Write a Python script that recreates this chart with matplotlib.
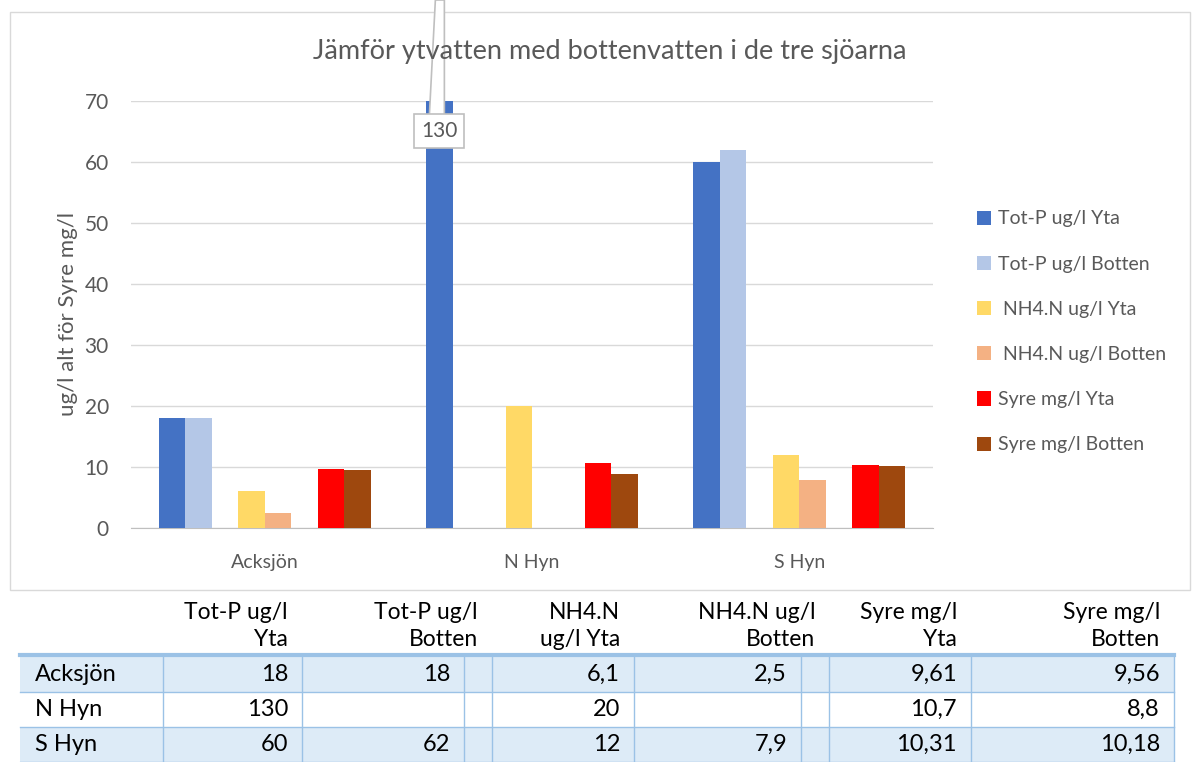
import matplotlib.pyplot as plt
from matplotlib.patches import Rectangle, Polygon

# data
lakes = ["Acksjön", "N Hyn", "S Hyn"]
series_names = ["Tot-P ug/l Yta", "Tot-P ug/l Botten", "",
                " NH4.N ug/l Yta", " NH4.N ug/l Botten", "",
                "Syre mg/l Yta", "Syre mg/l Botten"]
table_heads = ["Tot-P ug/l\nYta", "Tot-P ug/l\nBotten", "",
               "NH4.N\nug/l Yta", "NH4.N ug/l\nBotten", "",
               "Syre mg/l\nYta", "Syre mg/l\nBotten"]
totp_yta = [18, 130, 60]
totp_botten = [18, None, 62]
nh4_yta = [6.1, 20, 12]
nh4_botten = [2.5, None, 7.9]
syre_yta = [9.61, 10.7, 10.31]
syre_botten = [9.56, 8.8, 10.18]
empty = [None, None, None]
values = [totp_yta, totp_botten, empty, nh4_yta, nh4_botten, empty, syre_yta, syre_botten]
colors = ["#4472C4", "#B4C7E7", "none", "#FFD966", "#F4B183", "none", "#FF0000", "#9E480E"]
y_max = 70

plt.rcParams['font.family'] = ['Lato', 'DejaVu Sans']
gray = "#595959"

W, H = 1197, 762
fig = plt.figure(figsize=(W / 100, H / 100), dpi=100)

# chart border + table drawn on a pixel-space axes
bg = fig.add_axes([0, 0, 1, 1])
bg.set_xlim(0, W)
bg.set_ylim(H, 0)
bg.axis("off")
bg.add_patch(Rectangle((10, 12), 1180, 578, fill=False, edgecolor="#D9D9D9", lw=1))

ax = fig.add_axes([131 / W, 1 - 528 / H, 802 / W, 427 / H])
ax.set_xlim(-0.5, 2.5)
ax.set_ylim(0, y_max)

bw = 0.099
handles = []
for i, (vals, col) in enumerate(zip(values, colors)):
    off = (i - 3.5) * bw
    xs = [k + off for k, v in enumerate(vals) if v is not None]
    ys = [v for v in vals if v is not None]
    if col == "none":
        continue
    b = ax.bar(xs, ys, width=bw, color=col, zorder=3, label=series_names[i])
    handles.append(b)

ax.set_yticks(range(0, 71, 10))
ax.set_xticks(range(len(lakes)))
ax.set_xticklabels(lakes)
ax.tick_params(axis="y", length=0, labelsize=15, labelcolor=gray, pad=16)
ax.tick_params(axis="x", length=0, labelsize=14, labelcolor=gray, pad=19)
ax.grid(axis="y", color="#D9D9D9", lw=1, zorder=0)
for s in ["top", "right", "left"]:
    ax.spines[s].set_visible(False)
ax.spines["bottom"].set_color("#BFBFBF")
ax.set_ylabel("ug/l alt för Syre mg/l", fontsize=16, color=gray, labelpad=5)
ax.set_facecolor("none")

# overlay in pixel space for callout and title
top = fig.add_axes([0, 0, 1, 1])
top.set_xlim(0, W)
top.set_ylim(H, 0)
top.axis("off")

# callout for value above axis max
for k, v in enumerate(totp_yta):
    if v > y_max:
        xb = k - 3.5 * bw
        bx, by = ax.transData.transform((xb, 0))
        pointer = Polygon([(bx - 10, 115), (bx - 4, 0), (bx + 5, 0), (bx + 5, 115)],
                          closed=True, fc="white", ec="#BFBFBF", lw=1.2, zorder=2)
        top.add_patch(pointer)
        top.text(bx, 131, str(v), ha="center", va="center", fontsize=15,
                 color=gray, zorder=4,
                 bbox=dict(boxstyle="square,pad=0.33", fc="white", ec="#BFBFBF", lw=1.2))

top.text(610, 52, "Jämför ytvatten med bottenvatten i de tre sjöarna", fontsize=19.5,
         color=gray, ha="center", va="center", zorder=3)

fig.legend(handles=handles, loc="upper left", bbox_to_anchor=(959 / W, 1 - 193 / H),
           frameon=False, fontsize=14, labelcolor=gray, handlelength=0.75,
           handleheight=0.75, handletextpad=0.35, labelspacing=1.45)

# data table
edges = [163, 302, 464, 492, 634, 801, 829, 971, 1174]
head_right = [302, 492, None, 634, 829, None, 971, 1174]
row_top = [657, 692, 727]
row_h = 35
line_c = "#9BC2E6"
for r in range(len(lakes)):
    if r % 2 == 0:
        bg.add_patch(Rectangle((20, row_top[r]), 1174 - 20, row_h, fc="#DDEBF7", ec="none"))
    bg.plot([20, 1174], [row_top[r] + row_h, row_top[r] + row_h], color=line_c, lw=1)
bg.plot([20, 1174], [655, 655], color=line_c, lw=3)
for x in edges:
    bg.plot([x, x], [657, 762], color=line_c, lw=1)

def fmt(v):
    if v is None:
        return ""
    return str(v).replace(".", ",")

for j, head in enumerate(table_heads):
    if head:
        bg.text(head_right[j] - 14, 650, head, ha="right", va="bottom", fontsize=16.5,
                linespacing=1.35, color="black")
for r, lake in enumerate(lakes):
    yc = row_top[r] + row_h / 2
    bg.text(35, yc, lake, ha="left", va="center", fontsize=17, color="black")
    for j, vals in enumerate(values):
        txt = fmt(vals[r])
        if txt:
            bg.text(edges[j + 1] - 14, yc, txt, ha="right", va="center", fontsize=17,
                    color="black")

fig.savefig("out.png", dpi=100)
